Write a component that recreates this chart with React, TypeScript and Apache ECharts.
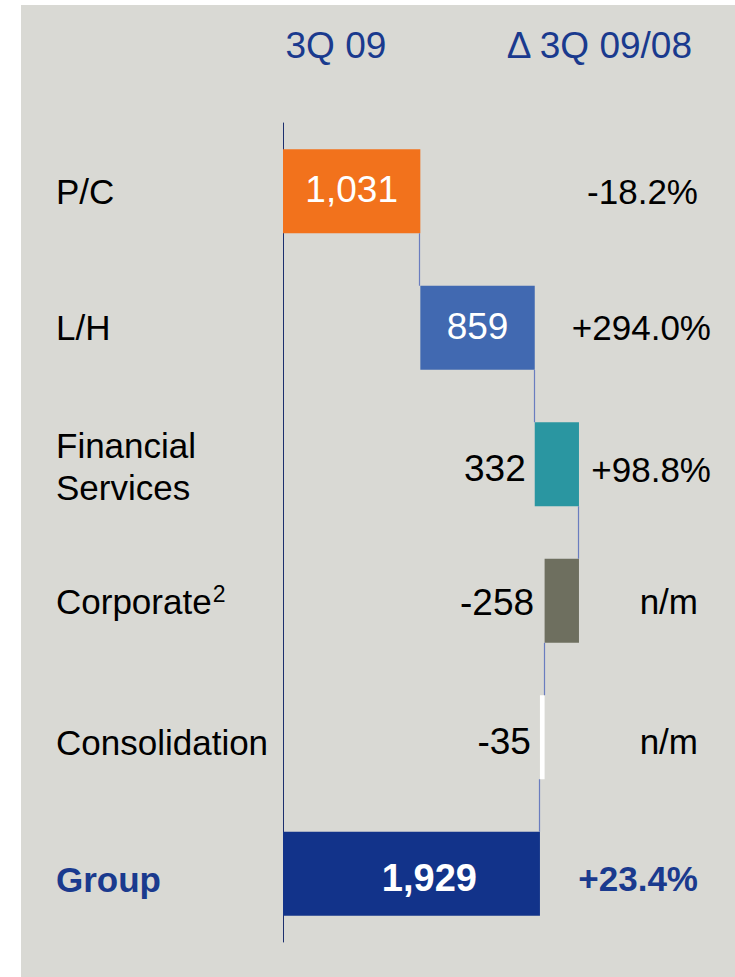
import React, { useEffect, useRef } from 'react';
import * as echarts from 'echarts';

// ---------- data ----------
const categories = ['P/C', 'L/H', 'Financial Services', 'Corporate', 'Consolidation', 'Group'];
const segmentValues = [1031, 859, 332, -258, -35]; // contributions, 3Q 09
const groupTotal = 1929;
const changeLabels = ['-18.2%', '+294.0%', '+98.8%', 'n/m', 'n/m', '+23.4%'];
const headerLabels = ['3Q 09', 'Δ 3Q 09/08'];
const footnoteMark = '2';

// ---------- styling ----------
const barColors = ['#f2721c', '#4169b1', '#2a96a1', '#6e6f5f', '#ffffff', '#12338a'];
const navy = '#1a3a8e';
const font = '"Liberation Sans", Arial, Helvetica, sans-serif';
const bgColor = '#d9d9d4';
const connectorColor = '#6a7dbf';

// small vertical tweaks of the text rows (px, downward)
const catShift = [0, 0, 2, 1, 5.5, 5.5];
const pctShift = [0, 0, 4.8, 1, 4.5, 4.5];
const pctRightPad = [13, 0, 0, 13, 13, 13];
const valShift = [-2, -1, 4.7, 2, 4.3, 4];

const BAR_W = 84;

function buildOption() {
  let cum = 0;
  const bases: number[] = [];
  const heights: number[] = [];
  const ends: number[] = [];
  segmentValues.forEach((v) => {
    const start = cum;
    cum += v;
    bases.push(Math.min(start, cum));
    heights.push(Math.abs(v));
    ends.push(cum);
  });
  bases.push(0);
  heights.push(groupTotal);
  const signed = [...segmentValues, groupTotal];

  const fmt = (v: number) => (v < 0 ? '-' : '') + Math.abs(v).toLocaleString('en-US');

  const valueData = heights.map((h, i) => {
    const isGroup = i === categories.length - 1;
    const inside = i <= 1;
    const label: any = {
      show: true,
      fontFamily: font,
      fontSize: isGroup ? 38 : 37,
      fontWeight: isGroup ? 'bold' : 'normal',
      color: inside || isGroup ? '#ffffff' : '#000000',
      offset: [0, valShift[i]],
      formatter: () => fmt(signed[i]),
    };
    if (isGroup) {
      label.position = 'insideRight';
      label.distance = 63;
    } else if (inside) {
      label.position = 'inside';
    } else {
      label.position = 'left';
      label.distance = i === 3 ? 10.5 : 9;
    }
    return { value: h, itemStyle: { color: barColors[i] }, label };
  });

  const connectors = ends.map((e, i) => [e, i]);

  const catRich: any = {};
  categories.forEach((_, i) => {
    catRich['c' + i] = {
      fontFamily: font,
      fontSize: 35,
      lineHeight: i === 2 ? 42 : 36,
      color: i === categories.length - 1 ? navy : '#000000',
      fontWeight: i === categories.length - 1 ? 'bold' : 'normal',
      padding: [catShift[i] * 2, 0, 0, 0],
    };
  });
  catRich.sup = {
    fontFamily: font,
    fontSize: 23,
    lineHeight: 30,
    verticalAlign: 'top',
    padding: [0, 0, 0, 1],
    color: '#000000',
  };

  const pctRich: any = {};
  changeLabels.forEach((_, i) => {
    const isGroup = i === changeLabels.length - 1;
    pctRich['p' + i] = {
      fontFamily: font,
      fontSize: 35,
      lineHeight: 36,
      color: isGroup ? navy : '#000000',
      fontWeight: isGroup ? 'bold' : 'normal',
      padding: [pctShift[i] * 2, pctRightPad[i], 0, 0],
    };
  });

  return {
    animation: false,
    backgroundColor: '#ffffff',
    graphic: [
      {
        type: 'rect',
        z: -10,
        silent: true,
        shape: { x: 21, y: 5, width: 714, height: 972 },
        style: { fill: bgColor },
      },
      {
        type: 'text',
        x: 285.5,
        y: 45,
        style: {
          text: headerLabels[0],
          fontFamily: font,
          fontSize: 37,
          fill: navy,
          align: 'left',
          verticalAlign: 'middle',
        },
      },
      {
        type: 'text',
        x: 692,
        y: 45,
        style: {
          text: headerLabels[1],
          fontFamily: font,
          fontSize: 37,
          fill: navy,
          align: 'right',
          verticalAlign: 'middle',
        },
      },
    ],
    grid: { left: 283, top: 123, width: 333, height: 819, containLabel: false },
    xAxis: { type: 'value', min: 0, max: 2500, show: false },
    yAxis: [
      {
        type: 'category',
        inverse: true,
        data: categories,
        offset: 1,
        axisLine: { show: true, lineStyle: { color: '#1c2f6e', width: 1 } },
        axisTick: { show: false },
        splitLine: { show: false },
        axisLabel: {
          align: 'left',
          margin: 226,
          interval: 0,
          rich: catRich,
          formatter: (val: string, i: number) => {
            if (i === 2) return '{c2|Financial}\n{c2|Services}';
            if (i === 3) return `{c3|${val}}{sup|${footnoteMark}}`;
            return `{c${i}|${val}}`;
          },
        },
      },
      {
        type: 'category',
        inverse: true,
        position: 'right',
        data: categories,
        axisLine: { show: false },
        axisTick: { show: false },
        splitLine: { show: false },
        axisLabel: {
          align: 'right',
          margin: 95,
          interval: 0,
          rich: pctRich,
          formatter: (_v: string, i: number) => `{p${i}|${changeLabels[i]}}`,
        },
      },
    ],
    series: [
      {
        type: 'bar',
        stack: 'w',
        barWidth: BAR_W,
        silent: true,
        itemStyle: { color: 'rgba(0,0,0,0)' },
        data: bases,
        z: 2,
      },
      {
        type: 'bar',
        stack: 'w',
        barWidth: BAR_W,
        data: valueData,
        z: 3,
      },
      {
        type: 'custom',
        xAxisIndex: 0,
        yAxisIndex: 0,
        encode: { x: 0, y: 1 },
        data: connectors,
        z: 4,
        silent: true,
        renderItem: (_params: any, api: any) => {
          const x = api.value(0);
          const i = api.value(1);
          const p1 = api.coord([x, i]);
          const p2 = api.coord([x, i + 1]);
          const xx = Math.round(p1[0]) - 0.5;
          return {
            type: 'line',
            shape: { x1: xx, y1: p1[1] + BAR_W / 2, x2: xx, y2: p2[1] - BAR_W / 2 },
            style: { stroke: connectorColor, lineWidth: 1.2 },
          };
        },
      },
    ],
  };
}

export default function App() {
  const ref = useRef<HTMLDivElement>(null);
  useEffect(() => {
    document.body.style.margin = '0';
    if (!ref.current) return;
    const chart = echarts.init(ref.current, undefined, { renderer: 'svg' });
    chart.setOption(buildOption() as any);
    return () => chart.dispose();
  }, []);
  return (
    <div
      ref={ref}
      style={{ position: 'fixed', left: 0, top: 0, width: 735, height: 977 }}
    />
  );
}
